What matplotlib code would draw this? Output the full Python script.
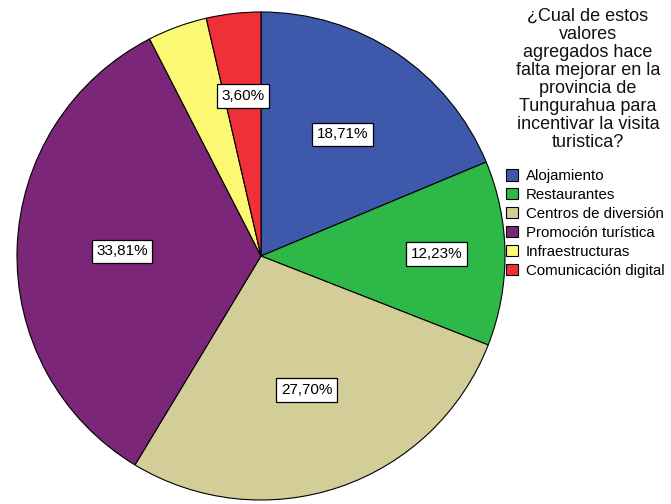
import numpy as np
import matplotlib.pyplot as plt

plt.rcParams['font.family'] = ['Liberation Sans', 'DejaVu Sans']

categories = ["Alojamiento", "Restaurantes", "Centros de diversión",
              "Promoción turística", "Infraestructuras", "Comunicación digital"]
percents = [18.71, 12.23, 27.70, 33.81, 3.95, 3.60]
shown = [True, True, True, True, False, True]
colors = ["#3E58AC", "#2EB848", "#D3CE97", "#7B2678", "#FBF873", "#EF3038"]
label_dist = [0.60, 0.72, 0.58, 0.57, 0.0, 0.66]

title = ("¿Cual de estos\nvalores\nagregados hace\nfalta mejorar en la\n"
         "provincia de\nTungurahua para\nincentivar la visita\nturistica?")

W, H = 671, 504
fig = plt.figure(figsize=(W / 100, H / 100), dpi=100)

# pie placed in pixel terms: centre and radius
cx, cy, r = 261, 256, 244
ax = fig.add_axes([(cx - r) / W, (H - cy - r) / H, 2 * r / W, 2 * r / H])

wedges, _ = ax.pie(percents, colors=colors, startangle=90, counterclock=False,
                   radius=1.0, center=(0, 0), frame=False,
                   wedgeprops=dict(edgecolor="black", linewidth=0.8))
ax.set_xlim(-1, 1)
ax.set_ylim(-1, 1)
ax.set_aspect("auto")
ax.axis("off")

for w, p, s, d in zip(wedges, percents, shown, label_dist):
    if not s:
        continue
    mid = np.deg2rad((w.theta1 + w.theta2) / 2)
    ax.text(d * np.cos(mid), d * np.sin(mid), f"{p:.2f}%".replace(".", ","),
            ha="center", va="center", fontsize=11,
            bbox=dict(boxstyle="square,pad=0.3", fc="white", ec="black", lw=0.9))

fig.text(588 / W, 1 - 8 / H, title, ha="center", va="top", fontsize=13,
         linespacing=1.08, color="#111111")

fig.legend(wedges, categories, loc="upper left", bbox_to_anchor=(506 / W, 1 - 169 / H),
           frameon=False, fontsize=10.8, handlelength=0.8, handleheight=0.8,
           handletextpad=0.5, labelspacing=0.33, borderaxespad=0, borderpad=0)

fig.savefig("out.png", dpi=100)
